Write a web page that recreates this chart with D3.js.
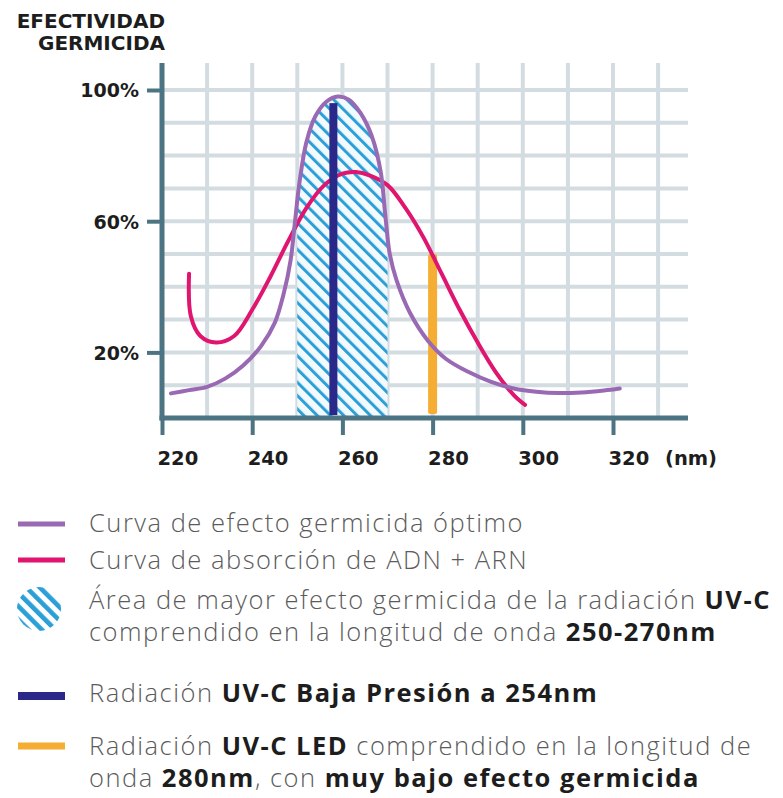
<!DOCTYPE html>
<html>
<head>
<meta charset="utf-8">
<script src="https://cdn.jsdelivr.net/npm/d3@7/dist/d3.min.js"></script>
<style>
  html, body { margin: 0; padding: 0; background: #fff; }
  svg { display: block; }
</style>
</head>
<body>
<div id="chart"></div>
<script>
// axis ticks
const xTicks = [220, 240, 260, 280, 300, 320];
const yTicks = [20, 60, 100];
const gridX = [230, 240, 250, 260, 270, 280, 290, 300, 310, 320, 330];
const gridY = [10, 20, 30, 40, 50, 60, 70, 80, 90, 100];

// curva de efecto germicida óptimo (nm, %)
const optimoNm  = [222, 226, 230, 234, 238, 242, 245, 247, 248.5, 249.5, 250.5, 252, 254, 256.5, 259, 261.5, 264, 266.5, 268.5, 269.5, 270.5, 272, 275, 279, 283, 288, 293, 298, 303, 308, 313, 318, 321.5];
const optimoPct = [7.5, 8.5, 9.5, 12, 16, 22, 29, 38, 48, 60, 72, 84, 92, 96.5, 98, 97, 93, 86, 75, 62, 50, 42, 32, 23.5, 18, 14, 11, 9, 8, 7.6, 7.8, 8.4, 9];

// curva de absorción de ADN + ARN (nm, %)
const adnNm  = [226, 226.4, 228.5, 232, 236, 240, 244, 248, 252, 256, 260, 263, 266, 270, 274, 278, 282, 286, 290, 294, 298, 300.5];
const adnPct = [44, 31, 25, 23, 25, 33, 43, 54, 64, 71, 74.5, 75, 74, 71, 64, 55, 44, 33, 23, 14, 7, 4];

// area 250-270 nm and the two sources
const hatchRange = [250, 270];
const lampNm  = [258, 280];
const lampPct = [96, 50];

const C = {
  grid: '#d3dce1', axis: '#4d7482', purple: '#9a69b4', red: '#df156f',
  navy: '#2a2889', orange: '#f6ad33', hatch: '#2a9fd8', text: '#5b5b5b', dark: '#1d1d1d'
};

const W = 783, H = 798;
const margin = { top: 63, left: 162 };
const w = 526, h = 355;

const svg = d3.select('#chart').append('svg').attr('width', W).attr('height', H);
const defs = svg.append('defs');

const hp = defs.append('pattern').attr('id', 'hatch').attr('patternUnits', 'userSpaceOnUse')
  .attr('width', 9.4).attr('height', 9.4).attr('patternTransform', 'rotate(-45)');
hp.append('rect').attr('width', 9.4).attr('height', 9.4).attr('fill', '#f3fafd');
hp.append('rect').attr('width', 3).attr('height', 9.4).attr('fill', C.hatch);

const hi = defs.append('pattern').attr('id', 'hatchIcon').attr('patternUnits', 'userSpaceOnUse')
  .attr('width', 9.5).attr('height', 9.5).attr('patternTransform', 'rotate(-45)');
hi.append('rect').attr('width', 9.5).attr('height', 9.5).attr('fill', '#fff');
hi.append('rect').attr('width', 4.6).attr('height', 9.5).attr('fill', C.hatch);

const g = svg.append('g').attr('transform', `translate(${margin.left},${margin.top})`);

const x = d3.scaleLinear().domain([220, 320]).range([0, 451]);
const y = d3.scaleLinear().domain([0, 100]).range([h, h - 328]);

// grid
g.append('g').selectAll('line').data(gridX).join('line')
  .attr('x1', d => x(d)).attr('x2', d => x(d)).attr('y1', 0).attr('y2', h)
  .attr('stroke', C.grid).attr('stroke-width', 4);
g.append('g').selectAll('line').data(gridY).join('line')
  .attr('x1', 0).attr('x2', w).attr('y1', d => y(d)).attr('y2', d => y(d))
  .attr('stroke', C.grid).attr('stroke-width', 4);

const optimo = optimoNm.map((d, i) => [d, optimoPct[i]]);
const adn = adnNm.map((d, i) => [d, adnPct[i]]);
const curve = d3.curveCatmullRom.alpha(0.5);

// hatched area under the optimal curve
defs.append('clipPath').attr('id', 'clipHatch').append('rect')
  .attr('x', x(hatchRange[0])).attr('width', x(hatchRange[1]) - x(hatchRange[0]))
  .attr('y', 0).attr('height', h);
g.append('path').datum(optimo)
  .attr('clip-path', 'url(#clipHatch)')
  .attr('fill', 'url(#hatch)')
  .attr('d', d3.area().x(d => x(d[0])).y0(y(0)).y1(d => y(d[1])).curve(curve));

const line = d3.line().x(d => x(d[0])).y(d => y(d[1])).curve(curve);

// LED 280nm
g.append('rect').attr('x', x(lampNm[1]) - 4.5).attr('width', 9)
  .attr('y', y(lampPct[1])).attr('height', y(0) - 4 - y(lampPct[1]))
  .attr('rx', 2).attr('fill', C.orange);

g.append('path').datum(adn).attr('d', line).attr('fill', 'none')
  .attr('stroke', C.red).attr('stroke-width', 4).attr('stroke-linecap', 'round');

// baja presión
g.append('rect').attr('x', x(lampNm[0]) - 4).attr('width', 8)
  .attr('y', y(lampPct[0])).attr('height', y(0) - 3 - y(lampPct[0]))
  .attr('fill', C.navy);

g.append('path').datum(optimo).attr('d', line).attr('fill', 'none')
  .attr('stroke', C.purple).attr('stroke-width', 4).attr('stroke-linecap', 'round');

// axes
const yAxis = g.append('g')
  .call(d3.axisLeft(y).tickValues(yTicks).tickSize(15).tickPadding(8).tickFormat(d => d + '%'));
yAxis.select('.domain').remove();
yAxis.selectAll('line').attr('stroke', C.axis).attr('stroke-width', 4);
yAxis.selectAll('text').attr('fill', C.dark).attr('dy', '0.36em')
  .style('font-family', 'DejaVu Sans').style('font-weight', 'bold').style('font-size', '19px');

const xAxis = g.append('g').attr('transform', `translate(0,${h})`)
  .call(d3.axisBottom(x).tickValues(xTicks).tickSize(17));
xAxis.select('.domain').remove();
xAxis.selectAll('line').attr('stroke', C.axis).attr('stroke-width', 4);
xAxis.selectAll('text').attr('fill', C.dark).attr('y', 47).attr('dy', 0).attr('dx', -5)
  .attr('text-anchor', 'start')
  .style('font-family', 'DejaVu Sans').style('font-weight', 'bold').style('font-size', '19.5px');
xAxis.append('text').attr('x', 503).attr('y', 47).attr('fill', C.dark).attr('text-anchor', 'start')
  .style('font-family', 'DejaVu Sans').style('font-weight', 'bold').style('font-size', '19.5px')
  .text('(nm)');

g.append('line').attr('x1', 0).attr('x2', 0).attr('y1', 0).attr('y2', h + 2.5)
  .attr('stroke', C.axis).attr('stroke-width', 5);
g.append('line').attr('x1', -2.5).attr('x2', w).attr('y1', h).attr('y2', h)
  .attr('stroke', C.axis).attr('stroke-width', 5);

// title
const title = svg.append('text').attr('text-anchor', 'end').attr('fill', C.dark)
  .style('font-family', 'DejaVu Sans').style('font-weight', 'bold').style('font-size', '20px');
title.append('tspan').attr('x', 165).attr('y', 28).text('EFECTIVIDAD');
title.append('tspan').attr('x', 165).attr('y', 50).text('GERMICIDA');

// legend
const legend = [
  { icon: 'line', color: C.purple, size: 5, iy: 524, lines: [[['Curva de efecto germicida óptimo', 0]]], y: 532 },
  { icon: 'line', color: C.red, size: 5, iy: 560, lines: [[['Curva de absorción de ADN + ARN', 0]]], y: 569 },
  { icon: 'hatch', iy: 609, lines: [
      [['Área de mayor efecto germicida de la radiación ', 0], ['UV-C', 1]],
      [['comprendido en la longitud de onda ', 0], ['250-270nm', 1]]], y: 609 },
  { icon: 'line', color: C.navy, size: 8, iy: 696, lines: [[['Radiación ', 0], ['UV-C Baja Presión a 254nm', 1]]], y: 702 },
  { icon: 'line', color: C.orange, size: 7, iy: 746, lines: [
      [['Radiación ', 0], ['UV-C LED', 1], [' comprendido en la longitud de', 0]],
      [['onda ', 0], ['280nm', 1], [', con ', 0], ['muy bajo efecto germicida', 1]]], y: 755 }
];

const lg = svg.append('g');
legend.forEach(item => {
  if (item.icon === 'line') {
    lg.append('line').attr('x1', 18).attr('x2', 65).attr('y1', item.iy).attr('y2', item.iy)
      .attr('stroke', item.color).attr('stroke-width', item.size);
  } else {
    lg.append('circle').attr('cx', 39).attr('cy', item.iy).attr('r', 22).attr('fill', 'url(#hatchIcon)');
  }
  item.lines.forEach((parts, li) => {
    const t = lg.append('text').attr('x', 89).attr('y', item.y + li * 32)
      .style('font-family', 'Open Sans').style('font-size', '25.5px').style('letter-spacing', '1.5px');
    parts.forEach(([s, b]) => {
      t.append('tspan').text(s)
        .attr('fill', b ? C.dark : C.text)
        .style('font-weight', b ? 'bold' : '300');
    });
  });
});
</script>
</body>
</html>
